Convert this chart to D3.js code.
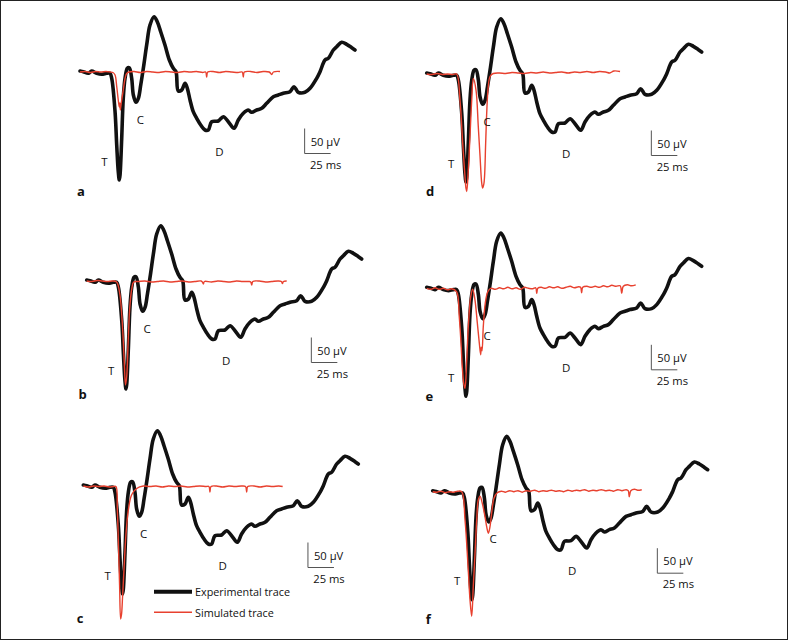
<!DOCTYPE html>
<html><head><meta charset="utf-8">
<script src="https://cdn.jsdelivr.net/npm/d3@7"></script>
<style>
body{margin:0;background:#fff}
svg{display:block}
text{font-family:"Open Sans",sans-serif;fill:#111}
</style>
</head><body>
<svg id="chart" width="788" height="640"></svg>
<script>
// ---- DATA (time in ms, potential in µV) ----
const expT = [0,3.2,8,11.2,16,20.9,25.7,28.8,30.5,33.7,35.3,36.8,37.8,38.5,40.1,41.6,43.3,45.5,47.4,49.7,51.3,53.8,56.1,58.4,60.9,64.1,67.3,71.2,74.3,77.6,81.7,85.9,89.7,92.3,94.5,97.8,101,103.2,105.8,108.9,112.2,116.1,120.2,123.4,126.6,133,137.8,142.6,148.1,152.2,157,161.8,165.1,169.9,174.7,179.5,185.9,190.7,195.5,201.9,205.8,209.9,216.3,221.2,227.6,230.8,235.6,238.8,243.6,246.8,251.6,256.4,261.3,264.4];
const expV = [2,0.6,-2.6,2,-2.6,-4.6,-2.6,-2.6,-12.6,-79.4,-146,-199.4,-216,-206,-132.6,-52.6,-12.6,7.4,8.6,-12.6,-46,-60.6,-52.6,-26,7.4,54,94,110.6,100.6,80.6,54,24,7.4,0.6,-38,-36,-22.6,-32.6,-56,-79.4,-92.6,-106,-116,-116,-99.4,-98,-89.4,-99.4,-112.6,-96,-82.6,-76,-80.6,-76,-72.6,-62.6,-49.4,-46,-42.6,-39.4,-29.4,-40.6,-40.6,-32.6,-12.6,0.6,24,27.4,44,50.6,59.4,55.4,48.6,44];

const simA = [[0,0],[5,1],[10,-1],[15,1],[20,0],[25,1],[29,0],[31.7,-1],[33.7,-6],[35.3,-29],[36.8,-56],[37.8,-70],[38.3,-62],[38.8,-76],[39.4,-66],[40.1,-56],[41.6,-36],[43.3,-13],[44.9,-3],[47.1,0],[52,1],[58,-1],[64,1],[70,0],[76,-1],[82,1],[88,0],[94,-1],[100,1],[106,0],[112,1],[118,-1],[120.8,0],[121.8,-10],[122.8,0],[128,1],[134,-1],[140,1],[146,0],[152,-1],[156,0],[157,-10],[158,0],[164,1],[170,-1],[176,1],[182,0],[184.3,-5],[186,0],[192.3,1]];
const simB = [[0,0],[5,-1],[10,1],[15,0],[20,-1],[25,0],[28.8,-2],[31.7,-24],[34.1,-80],[36.1,-160],[37.3,-208],[38.5,-190],[39.9,-120],[41.3,-56],[43.3,-16],[45.2,-2],[50,-1],[56,0],[62,-2],[68,-1],[74,0],[80,-2],[86,-1],[92,0],[98,-2],[104,-1],[110,0],[111.2,-2],[112.2,-6],[113.2,-1],[120,-2],[126,0],[132,-1],[138,-2],[144,0],[150,-1],[156,-1],[157.7,-2],[158.7,-8],[159.7,-1],[166,0],[172,-2],[178,-1],[184,0],[187.2,-1],[188.2,-5],[189.2,-1],[192.3,0]];
const simC = [[0,0],[5,-2],[10,0],[15,-1],[20,0],[25,-2],[29,-1],[31.4,-1],[32.7,-45],[33.9,-125],[34.9,-199],[35.9,-266],[36.8,-256],[37.8,-220],[39.1,-168],[41.1,-94],[43.3,-48],[46.4,-18],[51.3,-5],[57.7,0],[64,-1],[70,0],[76,-2],[82,0],[88,-1],[94,0],[100,-2],[106,-1],[112,0],[118,-1],[120.8,-1],[121.8,-12],[122.8,-1],[128,0],[134,-2],[140,0],[146,-1],[152,0],[156,-1],[157.1,-12],[158.1,-1],[164,0],[170,-2],[176,0],[182,-1],[188,0],[191.7,-1]];
const simD = [[0,0],[5,-1],[10,1],[15,-1],[20,0],[25,-1],[28.8,0],[32,-52],[34.6,-138],[36.8,-205],[37.8,-229],[38.5,-235],[40,-192],[41.6,-125],[43.3,-52],[44.8,-9],[47.4,-32],[49.6,-105],[51.3,-165],[52.9,-218],[53.8,-228],[55.1,-218],[56.7,-138],[57.7,-78],[59.2,-25],[60.9,-5],[64,1],[70,2],[76,1],[82,3],[88,2],[94,1],[100,3],[106,2],[112,4],[118,2],[124,3],[130,4],[136,2],[142,4],[148,3],[154,5],[160,3],[166,5],[172,4],[176,2],[180,6],[185.9,5]];
const simE = [[0,0],[4,-2],[8,1],[12,-2],[16,0],[20,-3],[24,-1],[28.8,-7],[31.3,-57],[33,-110],[34.2,-157],[35.6,-190],[36.8,-200],[38.5,-143],[40,-77],[42.3,-17],[44.2,-2],[46.4,-23],[48.7,-70],[50.6,-110],[51.9,-133],[52.4,-118],[53.2,-125],[54.4,-77],[56.3,-30],[58.7,-7],[61.5,0],[66,-2],[70,1],[74,-1],[78,2],[82,-1],[86,1],[90,-2],[94,2],[98,0],[102,-1],[104.8,1],[105.8,-10],[106.8,0],[110,2],[114,0],[118,3],[122,1],[126,3],[130,0],[134,2],[138,4],[142,1],[146,3],[148,2],[149,-9],[150,2],[154,4],[158,2],[162,4],[166,2],[170,5],[174,3],[178,6],[182,4],[186,5],[187.5,-10],[189,4],[193,7],[197,5],[201,7]];
const simF = [[0,0],[4,-1],[8,1],[12,-2],[16,0],[20,-1],[24,1],[27.9,0],[31.1,-57],[34.2,-157],[35.9,-217],[37.5,-249],[39,-190],[40.7,-123],[42.3,-57],[43.8,-17],[45.5,-9],[48.1,-27],[50.3,-50],[51.9,-70],[53.5,-83],[55.1,-70],[57,-37],[58.9,-13],[62.1,-2],[66,1],[70,-1],[74,2],[78,0],[82,2],[86,-1],[90,2],[94,1],[98,3],[102,0],[106,2],[110,1],[114,3],[118,1],[122,2],[126,0],[130,3],[134,1],[138,3],[142,2],[146,4],[150,1],[154,3],[158,2],[162,4],[166,2],[170,3],[174,1],[178,4],[182,2],[186,4],[188,2],[189,-10],[190.5,2],[194,5],[197,3],[201,4]];

const panelLetters = ["a","b","c","d","e","f"];
const peakNames = ["T","C","D"];
const peakT = [23.5, 58, 134];
const peakV = [-178, -94, -158];
const scaleT0 = 216, scaleDT = 25, scaleV0 = -113, scaleDV = 50;
const scaleLabels = ["50 µV", "25 ms"];
const legendLabels = ["Experimental trace", "Simulated trace"];

// ---- LAYOUT ----
const W = 788, H = 640;
const pxPerMs = 26/25, pxPerUV = 25/50;
const sims = [simA, simB, simC, simD, simE, simF];
const origins = [[80,72],[86.7,281],[83.3,486],[426.7,74],[426.7,288.3],[432.7,491.7]];
const letterPos = [[81,191],[82.7,394],[80,618],[430,191],[429.3,396],[428.3,619.3]];
const BLACK = "#111", RED = "#e8412f";

const svg = d3.select("#chart");
svg.append("rect").attr("x",0.5).attr("y",0.5).attr("width",W-1).attr("height",H-1)
  .attr("fill","#fff").attr("stroke","#222").attr("stroke-width",1);

const expData = expT.map((t,i)=>[t, expV[i]]);

panelLetters.forEach((L, i) => {
  const [ox, oy] = origins[i];
  const x = d3.scaleLinear().domain([0, 100]).range([ox, ox + 100*pxPerMs]);
  const y = d3.scaleLinear().domain([0, -100]).range([oy, oy + 100*pxPerUV]);
  const line = d3.line().x(d => x(d[0])).y(d => y(d[1])).curve(d3.curveCatmullRom.alpha(0.5));
  const g = svg.append("g");
  g.append("path").attr("d", line(expData)).attr("fill","none").attr("stroke",BLACK)
    .attr("stroke-width",3.6).attr("stroke-linejoin","round").attr("stroke-linecap","round");
  g.append("path").attr("d", line(sims[i])).attr("fill","none").attr("stroke",RED)
    .attr("stroke-width",1.4).attr("stroke-linejoin","round");
  peakNames.forEach((n, k) => {
    g.append("text").attr("x", x(peakT[k])).attr("y", y(peakV[k]))
      .attr("text-anchor","middle").attr("dominant-baseline","central")
      .attr("font-size",11.5).text(n);
  });
  const sx = x(scaleT0), sy0 = y(scaleV0), sy1 = y(scaleV0 - scaleDV), sx1 = x(scaleT0 + scaleDT);
  g.append("path").attr("d", `M${sx},${sy0}V${sy1}H${sx1}`).attr("fill","none")
    .attr("stroke","#555").attr("stroke-width",1);
  g.append("text").attr("x", sx + 6).attr("y", sy0 + 17).attr("font-size",11.2).text(scaleLabels[0]);
  g.append("text").attr("x", sx + 21).attr("y", sy1 + 15).attr("text-anchor","middle")
    .attr("font-size",11.2).text(scaleLabels[1]);
  g.append("text").attr("x", letterPos[i][0]).attr("y", letterPos[i][1])
    .attr("text-anchor","middle").attr("dominant-baseline","central")
    .attr("font-size",13).attr("font-weight","bold").text(L);
});

const legY = [591.7, 612.3];
const legColors = [BLACK, RED];
const legWidths = [4, 1.4];
legendLabels.forEach((lab, k) => {
  svg.append("line").attr("x1",154).attr("x2",192).attr("y1",legY[k]).attr("y2",legY[k])
    .attr("stroke",legColors[k]).attr("stroke-width",legWidths[k]);
  svg.append("text").attr("x",195).attr("y",legY[k]).attr("dominant-baseline","central")
    .attr("font-size",10.8).text(lab);
});
</script>
</body></html>
